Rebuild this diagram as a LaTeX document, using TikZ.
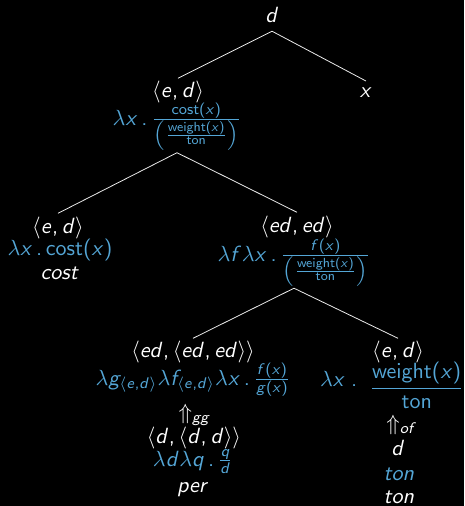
\documentclass[tikz,border=0pt]{standalone}
\usepackage{amsmath}
\usepackage{graphicx}
\DeclareMathSizes{10}{10}{7.5}{6}
\DeclareSymbolFont{sfsl}{OT1}{cmss}{m}{sl}
\DeclareSymbolFont{sfup}{OT1}{cmss}{m}{n}
\DeclareMathSymbol{a}{\mathalpha}{sfsl}{`a}
\DeclareMathSymbol{b}{\mathalpha}{sfsl}{`b}
\DeclareMathSymbol{c}{\mathalpha}{sfsl}{`c}
\DeclareMathSymbol{d}{\mathalpha}{sfsl}{`d}
\DeclareMathSymbol{e}{\mathalpha}{sfsl}{`e}
\DeclareMathSymbol{f}{\mathalpha}{sfsl}{`f}
\DeclareMathSymbol{g}{\mathalpha}{sfsl}{`g}
\DeclareMathSymbol{h}{\mathalpha}{sfsl}{`h}
\DeclareMathSymbol{i}{\mathalpha}{sfsl}{`i}
\DeclareMathSymbol{n}{\mathalpha}{sfsl}{`n}
\DeclareMathSymbol{o}{\mathalpha}{sfsl}{`o}
\DeclareMathSymbol{p}{\mathalpha}{sfsl}{`p}
\DeclareMathSymbol{q}{\mathalpha}{sfsl}{`q}
\DeclareMathSymbol{r}{\mathalpha}{sfsl}{`r}
\DeclareMathSymbol{s}{\mathalpha}{sfsl}{`s}
\DeclareMathSymbol{t}{\mathalpha}{sfsl}{`t}
\DeclareMathSymbol{w}{\mathalpha}{sfsl}{`w}
\DeclareMathSymbol{x}{\mathalpha}{sfsl}{`x}
\DeclareMathSymbol{,}{\mathpunct}{sfup}{`,}
\DeclareMathSymbol{.}{\mathord}{sfup}{`.}
\DeclareMathDelimiter{(}{\mathopen}{sfup}{"28}{largesymbols}{"00}
\DeclareMathDelimiter{)}{\mathclose}{sfup}{"29}{largesymbols}{"01}
\DeclareMathAlphabet{\mathsf}{OT1}{cmss}{m}{n}
\definecolor{lblue}{RGB}{84,166,214}
\definecolor{edgegray}{RGB}{235,235,235}
\newcommand{\mth}[1]{\scalebox{2.2}{$#1$}}
\tikzset{
  lab/.style={inner sep=1pt, anchor=base, text=white, font=\fontsize{10}{12}\selectfont},
  sem/.style={lab, text=lblue},
  edge/.style={draw=edgegray, line width=0.8pt}
}
\begin{document}
\begin{tikzpicture}[x=1pt,y=-1pt]
\fill[black] (0,0) rectangle (464,506);
\useasboundingbox (0,0) rectangle (464,506);
% root
\node[lab, inner ysep=9pt] (root) at (272,22) {\mth{d}};
\node[lab, inner ysep=6pt] (xn) at (366,97) {\mth{x}};
% node a
\node[lab, inner ysep=2pt] (a1) at (178,97) {\mth{\langle e, d\rangle}};
\node[sem, inner ysep=2pt] (a2) at (177,125) {\mth{\lambda x\,.\,\frac{\mathsf{cost}(x)}{\left(\frac{\mathsf{weight}(x)}{\mathsf{ton}}\right)}}};
% node b
\node[lab, inner ysep=3pt] (b1) at (58,233) {\mth{\langle e, d\rangle}};
\node[sem] (b2) at (60,255) {\mth{\lambda x\,.\,\mathsf{cost}(x)}};
\node[lab] (b3) at (60,279) {\mth{cost}};
% node c
\node[lab, inner ysep=3pt] (c1) at (297,232) {\mth{\langle ed, ed\rangle}};
\node[sem, inner ysep=1.5pt] (c2) at (294,261) {\mth{\lambda f\lambda x\,.\,\frac{f(x)}{\left(\frac{\mathsf{weight}(x)}{\mathsf{ton}}\right)}}};
% node d
\node[lab, inner ysep=2pt] (d1) at (193,357) {\mth{\langle ed, \langle ed, ed\rangle\rangle}};
\node[sem] (d2) at (193,385) {\mth{\lambda g_{\langle e,d\rangle}\lambda f_{\langle e,d\rangle}\lambda x\,.\,\frac{f(x)}{g(x)}}};
\node[lab] (d3) at (195,419) {\mth{\Uparrow_{gg}}};
\node[lab] (d4) at (194,443) {\mth{\langle d, \langle d, d\rangle\rangle}};
\node[sem] (d5) at (193,466) {\mth{\lambda d\lambda q\,.\,\frac{q}{d}}};
\node[lab] (d6) at (193,492) {\mth{per}};
% node e
\node[lab, inner ysep=2pt] (e1) at (398,357) {\mth{\langle e, d\rangle}};
\node[sem] (e2) at (392,386) {\mth{\lambda x\;.\;\;\raisebox{-3.5pt}{$\displaystyle\frac{\mathsf{weight}(x)}{\mathsf{ton}}$}}};
\node[lab] (e3) at (402,430) {\mth{\Uparrow_{of}}};
\node[lab] (e4) at (398,455) {\mth{d}};
\node[sem] (e5) at (399,480) {\mth{ton}};
\node[lab] (e6) at (399,503) {\mth{ton}};
% edges
\draw[edge] (root.south) -- (a1.north);
\draw[edge] (root.south) -- (xn.north);
\draw[edge] (a2.south) -- (b1.north);
\draw[edge] (a2.south) -- (c1.north);
\draw[edge] (c2.south) -- (d1.north);
\draw[edge] (c2.south) -- (e1.north);
\end{tikzpicture}
\end{document}
